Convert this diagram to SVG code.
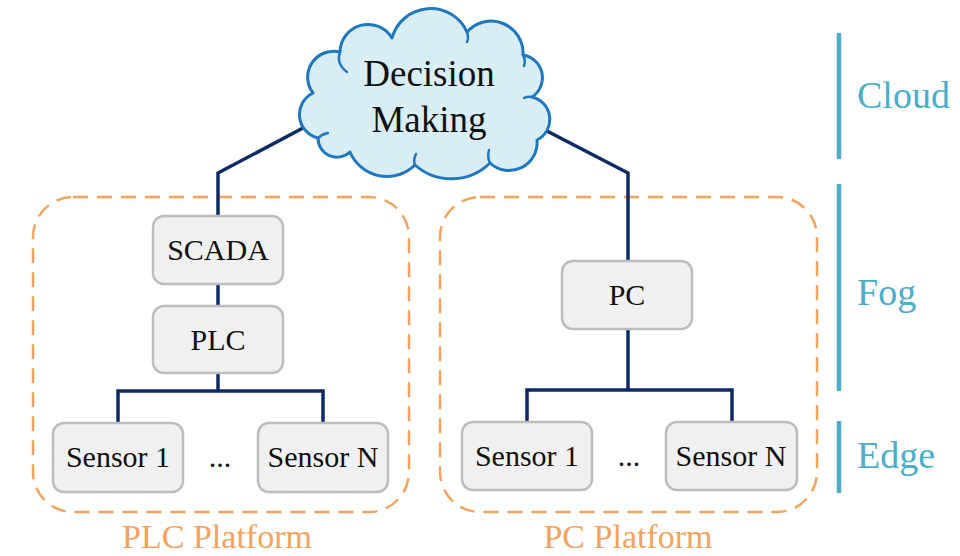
<svg xmlns="http://www.w3.org/2000/svg" width="960" height="556" viewBox="0 0 960 556">
<style>
  .box { fill: #f0f0f0; stroke: #bdbdbd; stroke-width: 2.5; }
  .lbl { font-family: "Liberation Serif", "DejaVu Serif", serif; font-size: 30px; fill: #111; text-anchor: middle; }
  .plat { fill: none; stroke: #f5a25d; stroke-width: 2.5; stroke-dasharray: 15 9; }
  .platlbl { font-family: "Liberation Serif", "DejaVu Serif", serif; font-size: 34px; fill: #f5a25d; text-anchor: middle; }
  .tier { stroke: #4aaecb; stroke-width: 4.5; }
  .tierlbl { font-family: "Liberation Serif", "DejaVu Serif", serif; font-size: 38px; fill: #4aaecb; }
  .conn { fill: none; stroke: #0d2a66; stroke-width: 3.5; }
</style>
<rect width="960" height="556" fill="#ffffff"/>

<g id="plc-platform">
  <rect class="plat" x="33" y="197" width="376" height="315" rx="40"/>
  <text class="platlbl" x="217" y="548">PLC Platform</text>
</g>
<g id="pc-platform">
  <rect class="plat" x="440" y="197" width="377" height="315" rx="40"/>
  <text class="platlbl" x="628" y="548">PC Platform</text>
</g>

<g id="connectors">
  <polyline class="conn" points="303,128 218,173 218,216"/>
  <polyline class="conn" points="545,130 628,173 628,261"/>
  <line class="conn" x1="218" y1="284" x2="218" y2="306"/>
  <polyline class="conn" points="118,423 118,391 323,391 323,423"/>
  <line class="conn" x1="218" y1="372" x2="218" y2="391"/>
  <polyline class="conn" points="527,422 527,390 732,390 732,422"/>
  <line class="conn" x1="628" y1="329" x2="628" y2="390"/>
</g>

<g id="cloud">
  <path d="M318,138 A24,24 0 0 1 313,93 A26,26 0 0 1 340,52 A28,28 0 0 1 392,38 A40,40 0 0 1 467,32 A32,32 0 0 1 523,55 A23,23 0 0 1 532,97 A23,23 0 0 1 537,140 A28,28 0 0 1 490,163 A55,55 0 0 1 415,165 A40,40 0 0 1 350,152 A19,19 0 0 1 318,138 Z" fill="#d9edf5" stroke="#1f77c0" stroke-width="3" stroke-linejoin="round"/>
  <g fill="none" stroke="#1f77c0" stroke-width="2.5" stroke-linecap="round">
    <path d="M340,52 Q336,64 347,72"/>
    <path d="M467,32 Q469,38 467,42"/>
    <path d="M523,55 Q526,60 524,66"/>
    <path d="M532,97 Q528,96 524,98"/>
    <path d="M490,163 Q487,157 489,150"/>
    <path d="M415,165 Q413,160 416,154"/>
    <path d="M318,138 Q322,134 328,133"/>
  </g>
  <text class="lbl" x="429" y="86" style="font-size:37px">Decision</text>
  <text class="lbl" x="429" y="132" style="font-size:37px">Making</text>
</g>

<g id="scada">
  <rect class="box" x="153" y="216" width="130" height="68" rx="11"/>
  <text class="lbl" x="218" y="260">SCADA</text>
</g>
<g id="plc">
  <rect class="box" x="153" y="306" width="130" height="67" rx="11"/>
  <text class="lbl" x="218" y="350">PLC</text>
</g>
<g id="plc-sensor1">
  <rect class="box" x="53" y="423" width="130" height="69" rx="11"/>
  <text class="lbl" x="118" y="467">Sensor 1</text>
</g>
<g id="plc-dots">
  <text class="lbl" x="220" y="467">...</text>
</g>
<g id="plc-sensorN">
  <rect class="box" x="258" y="423" width="130" height="69" rx="11"/>
  <text class="lbl" x="323" y="467">Sensor N</text>
</g>

<g id="pc">
  <rect class="box" x="562" y="261" width="130" height="68" rx="11"/>
  <text class="lbl" x="627" y="305">PC</text>
</g>
<g id="pc-sensor1">
  <rect class="box" x="462" y="422" width="130" height="68" rx="11"/>
  <text class="lbl" x="527" y="466">Sensor 1</text>
</g>
<g id="pc-dots">
  <text class="lbl" x="629" y="466">...</text>
</g>
<g id="pc-sensorN">
  <rect class="box" x="666" y="422" width="131" height="68" rx="11"/>
  <text class="lbl" x="731" y="466">Sensor N</text>
</g>

<g id="tier-cloud">
  <line class="tier" x1="839" y1="33" x2="839" y2="159"/>
  <text class="tierlbl" x="857" y="108">Cloud</text>
</g>
<g id="tier-fog">
  <line class="tier" x1="839" y1="184" x2="839" y2="391"/>
  <text class="tierlbl" x="857" y="305">Fog</text>
</g>
<g id="tier-edge">
  <line class="tier" x1="839" y1="421" x2="839" y2="493"/>
  <text class="tierlbl" x="857" y="468">Edge</text>
</g>
</svg>
